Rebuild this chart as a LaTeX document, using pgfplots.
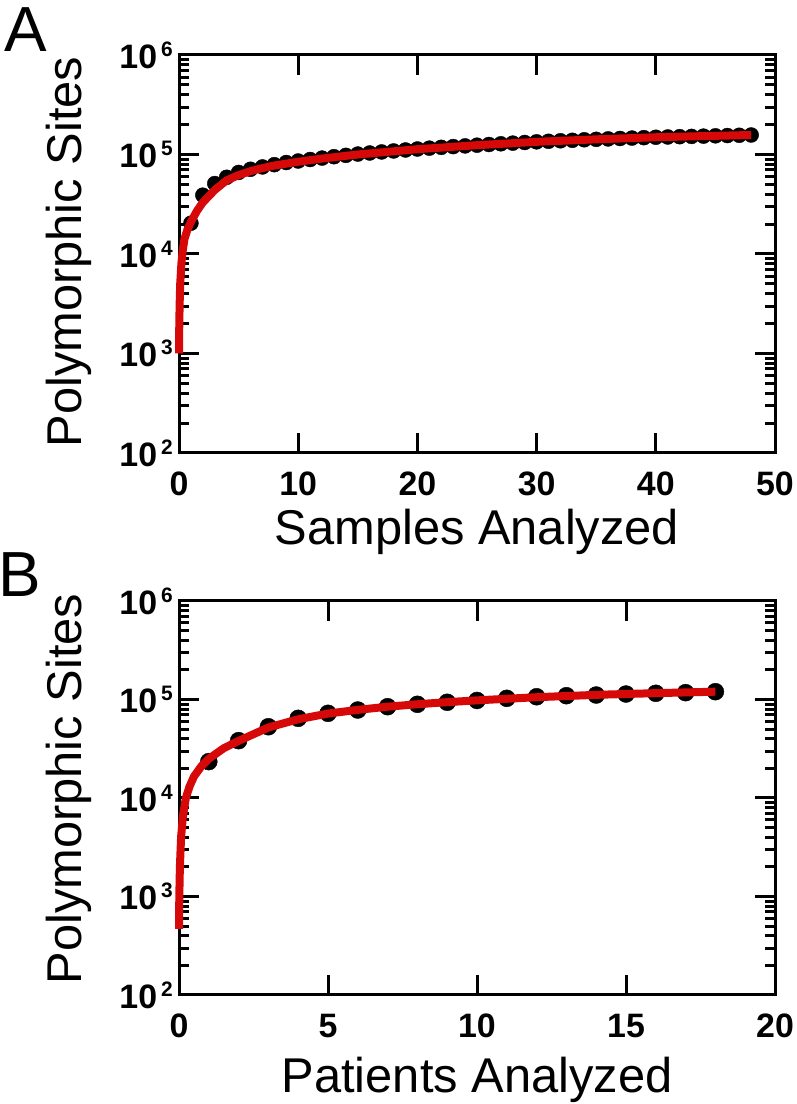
\documentclass[border=0pt]{standalone}
\usepackage{fontspec}
\setmainfont{Liberation Sans}
\usepackage{pgfplots}
\pgfplotsset{compat=1.18}
\definecolor{fitred}{RGB}{214,8,8}
\newcommand{\pw}[1]{10\kern4bp\raisebox{12bp}{\fontsize{21}{21}\selectfont #1}}
\pgfplotsset{
  myaxis/.style={
    scale only axis, width=596bp,
    ymin=100, ymax=1000000,
    ytick={100,1000,10000,100000,1000000},
    yticklabels={\pw{2},\pw{3},\pw{4},\pw{5},\pw{6}},
    minor ytick={200,300,400,500,600,700,800,900,2000,3000,4000,5000,6000,7000,8000,9000,20000,30000,40000,50000,60000,70000,80000,90000,200000,300000,400000,500000,600000,700000,800000,900000},
    axis line style={line width=3bp},
    tick style={line width=3bp, black},
    major tick length=20bp, minor tick length=10bp,
    tick label style={font=\fontsize{34}{34}\selectfont\bfseries},
    yticklabel style={anchor=east, inner sep=0pt, xshift=-6bp},
    xticklabel style={anchor=north, inner sep=0pt, yshift=-19bp},
    clip=false, clip marker paths=true,
  }
}
\begin{document}
\begin{tikzpicture}
\path[use as bounding box] (0,0) rectangle (797bp,1104bp);
% Panel A
\begin{axis}[ymode=log, myaxis, height=398bp, at={(179bp,651bp)}, anchor=south west,
  xmin=0, xmax=50, xtick={0,10,20,30,40,50}, xticklabels={0,10,20,30,40,50}]
\addplot[only marks, mark=*, mark size=7.5bp, black, mark options={fill=black}] coordinates {
(1,20400)(2,39000)(3,51000)(4,59000)(5,66000)(6,71000)(7,75000)(8,79000)(9,83000)(10,86000)
(11,89000)(12,92000)(13,95000)(14,98000)(15,101000)(16,103500)(17,106000)(18,108500)(19,111000)(20,113500)
(21,115800)(22,118000)(23,120000)(24,122000)(25,124000)(26,126000)(27,128000)(28,130000)(29,132000)(30,134000)
(31,135700)(32,137300)(33,138900)(34,140500)(35,142000)(36,143400)(37,144800)(38,146200)(39,147600)(40,149000)
(41,150000)(42,151000)(43,152000)(44,153000)(45,154000)(46,155000)(47,156000)(48,157000)
};
\addplot[fitred, line width=8bp, line join=round] coordinates {
(0,1000)(0.02,1800)(0.05,3000)(0.1,5000)(0.2,8000)(0.3,10500)(0.45,14000)(0.7,17500)(1,21000)
(1.5,27000)(2,33000)(3,44000)(4,55000)(5,62000)(6,68000)(7,73000)(8,77500)(10,84500)(12,91000)(15,100000)
(20,113000)(25,124000)(30,134000)(35,142000)(40,149000)(45,154000)(48,157000)
};
\end{axis}
% Panel B
\begin{axis}[ymode=log, myaxis, height=394bp, at={(179bp,109bp)}, anchor=south west,
  xmin=0, xmax=20, xtick={0,5,10,15,20}, xticklabels={0,5,10,15,20}]
\addplot[only marks, mark=*, mark size=8.5bp, black, mark options={fill=black}] coordinates {
(1,23400)(2,38200)(3,52900)(4,64400)(5,72400)(6,78200)(7,84500)(8,89400)(9,93700)(10,97800)
(11,102800)(12,106600)(13,109300)(14,111000)(15,113700)(16,115600)(17,117300)(18,120000)
};
\addplot[fitred, line width=8bp, line join=round] coordinates {
(0,470)(0.01,1000)(0.03,2000)(0.07,4000)(0.13,6500)(0.23,10000)(0.35,13000)(0.5,16500)(0.75,21000)
(1,25000)(1.5,32000)(2,38000)(3,52000)(4,63000)(5,72000)(6,78500)(7,84500)(8,89500)(9,94000)
(10,98000)(12,105500)(14,111500)(16,116000)(18,120000)
};
\end{axis}
\node[font=\fontsize{64}{64}\selectfont, anchor=base west, inner sep=0pt] at (4bp,1052bp) {A};
\node[font=\fontsize{64}{64}\selectfont, anchor=base west, inner sep=0pt] at (-2bp,507bp) {B};
\node[font=\fontsize{49}{49}\selectfont, anchor=base, inner sep=0pt] at (477bp,559bp) {Samples Analyzed};
\node[font=\fontsize{49}{49}\selectfont, anchor=base, inner sep=0pt] at (477bp,12bp) {Patients Analyzed};
\node[font=\fontsize{49}{49}\selectfont, anchor=base, rotate=90, inner sep=0pt] at (81bp,852bp) {Polymorphic Sites};
\node[font=\fontsize{49}{49}\selectfont, anchor=base, rotate=90, inner sep=0pt] at (81bp,315bp) {Polymorphic Sites};
\end{tikzpicture}
\end{document}
